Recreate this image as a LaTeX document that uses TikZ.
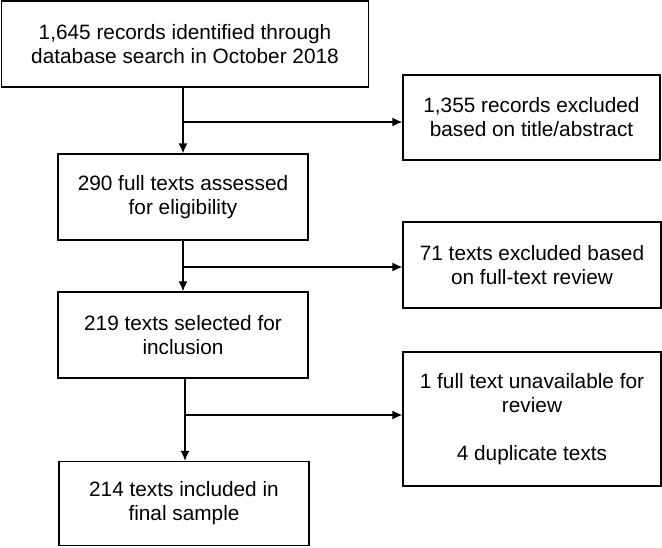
\documentclass[tikz,border=0pt]{standalone}
\usepackage{fontspec}
\setmainfont{Liberation Sans}
\usetikzlibrary{arrows.meta}

\begin{document}
\begin{tikzpicture}[x=1pt,y=-1pt,
        box/.style = {draw,line width=1.3pt,align=center,inner sep=0pt,font=\fontsize{20.8}{24}\selectfont},
        flow/.style = {line width=1.3pt,-{Latex[length=10pt,width=9pt]}}]
        \useasboundingbox (0,0) rectangle (662,547);
        % main column
        \node[box,minimum width=367pt,minimum height=86pt] (search) at (185,44) {1,645 records identified through\\database search in October 2018};
        \node[box,minimum width=250pt,minimum height=86pt] (assessed) at (183,197) {290 full texts assessed\\for eligibility};
        \node[box,minimum width=250pt,minimum height=86pt] (selected) at (183,335) {219 texts selected for\\inclusion};
        \node[box,minimum width=250pt,minimum height=84pt] (included) at (184,503.5) {214 texts included in\\final sample};
        % exclusions
        \node[box,minimum width=257pt,minimum height=85pt] (title) at (531.5,117.5) {1,355 records excluded\\based on title/abstract};
        \node[box,minimum width=258pt,minimum height=86pt] (fulltext) at (532,265) {71 texts excluded based\\on full-text review};
        \node[box,minimum width=258pt,minimum height=134pt] (other) at (532,419) {1 full text unavailable for\\review\\[24pt]4 duplicate texts};
        \coordinate (j1) at (183,122);
        \coordinate (j2) at (183,267);
        \coordinate (j3) at (185,415);
        \draw[flow] (j1 |- search.south) -- (j1 |- assessed.north);
        \draw[flow] (j1) -- (j1 -| title.west);
        \draw[flow] (j2 |- assessed.south) -- (j2 |- selected.north);
        \draw[flow] (j2) -- (j2 -| fulltext.west);
        \draw[flow] (j3 |- selected.south) -- (j3 |- included.north);
        \draw[flow] (j3) -- (j3 -| other.west);
\end{tikzpicture}
\end{document}
